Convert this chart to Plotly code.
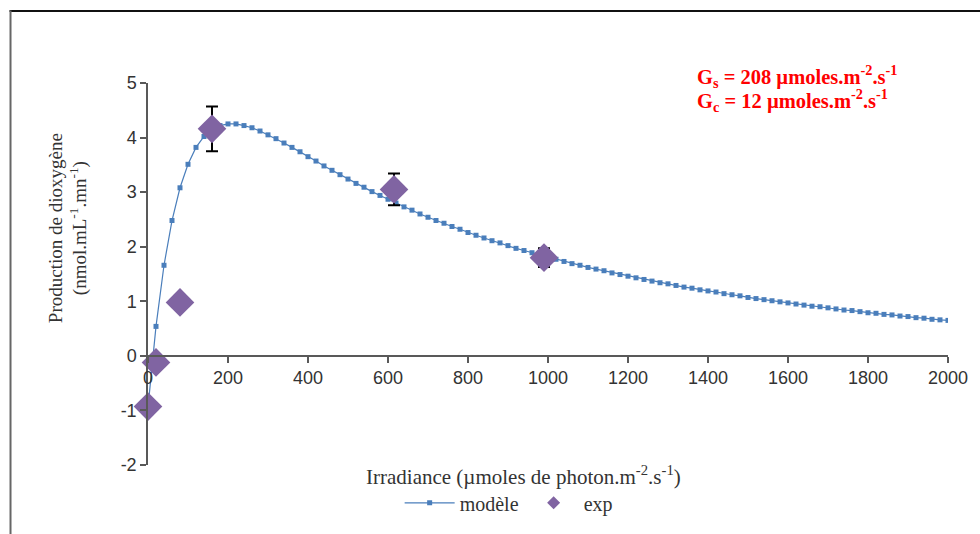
import plotly.graph_objects as go

# Model curve (every 20 units)
model_x = list(range(0, 2001, 20))
model_y = [
    -0.94, 0.54, 1.66, 2.48, 3.08, 3.51, 3.82, 4.02, 4.15, 4.22,
    4.25, 4.25, 4.22, 4.18, 4.12, 4.05, 3.98, 3.90, 3.82, 3.74,
    3.65, 3.57, 3.48, 3.40, 3.32, 3.24, 3.16, 3.09, 3.01, 2.94,
    2.87, 2.80, 2.73, 2.67, 2.60, 2.54, 2.48, 2.43, 2.37, 2.32,
    2.26, 2.21, 2.16, 2.11, 2.07, 2.02, 1.97, 1.93, 1.89, 1.85,
    1.81, 1.77, 1.73, 1.69, 1.66, 1.62, 1.59, 1.56, 1.52, 1.49,
    1.46, 1.43, 1.40, 1.37, 1.34, 1.32, 1.29, 1.26, 1.24, 1.21,
    1.19, 1.17, 1.14, 1.12, 1.10, 1.07, 1.05, 1.03, 1.01, 0.99,
    0.97, 0.95, 0.93, 0.91, 0.90, 0.88, 0.86, 0.84, 0.83, 0.81,
    0.79, 0.78, 0.76, 0.75, 0.73, 0.72, 0.70, 0.69, 0.67, 0.66,
    0.65,
]

# Experimental points
exp_x = [0, 20, 80, 160, 615, 990]
exp_y = [-0.93, -0.12, 0.98, 4.16, 3.05, 1.80]
exp_err = [0, 0, 0, 0.41, 0.29, 0.17]

x_ticks = [0, 200, 400, 600, 800, 1000, 1200, 1400, 1600, 1800, 2000]
y_ticks = [-2, -1, 0, 1, 2, 3, 4, 5]
y_ticktext = ["-2", "-1", "0", "1", "2", "3", "4", "5"]

blue = "#4A7EBB"
purple = "#8064A2"
axis_col = "#595959"
text_col = "#333333"

fig = go.Figure()
fig.add_trace(go.Scatter(
    x=model_x, y=model_y, mode="lines+markers", name="modèle",
    line=dict(color=blue, width=1.2),
    marker=dict(symbol="square", size=5, color=blue),
))
fig.add_trace(go.Scatter(
    x=exp_x, y=exp_y, mode="markers", name="exp", showlegend=False,
    marker=dict(symbol="diamond", size=22, color=purple),
    error_y=dict(type="data", array=exp_err, visible=True,
                 color="black", thickness=2, width=6),
    cliponaxis=False,
))
fig.add_trace(go.Scatter(
    x=[None], y=[None], mode="markers", name="exp",
    marker=dict(symbol="diamond", size=10, color=purple),
))

L, R, T, B = 148, 29, 83, 67
W, H = 980, 534
pw = W - L - R
ph = H - T - B

def px(xp):
    return (xp - L) / pw

def py(yp):
    return (H - B - yp) / ph

fig.update_layout(
    width=W, height=H,
    margin=dict(l=L, r=R, t=T, b=B),
    plot_bgcolor="white", paper_bgcolor="white",
    font=dict(family="Liberation Sans", size=14, color=text_col),
    xaxis=dict(
        range=[0, 2000], tickvals=x_ticks, showgrid=False, zeroline=False,
        showline=True, linecolor=axis_col, linewidth=1.5,
        ticks="outside", ticklen=6, tickcolor=axis_col, tickwidth=1.5,
        anchor="free", position=2 / 7,
        tickfont=dict(family="Liberation Sans", size=18, color=text_col),
    ),
    yaxis=dict(
        range=[-2, 5], tickvals=y_ticks, ticktext=y_ticktext,
        showgrid=False, zeroline=False,
        showline=True, linecolor=axis_col, linewidth=1.5,
        ticks="outside", ticklen=6, tickcolor=axis_col, tickwidth=1.5,
        tickfont=dict(family="Liberation Sans", size=18, color=text_col),
    ),
    showlegend=True,
    legend=dict(
        orientation="h", x=px(510), xanchor="center", y=py(505), yanchor="middle",
        font=dict(family="Liberation Serif", size=20, color=text_col),
        bgcolor="rgba(0,0,0,0)", itemwidth=50,
    ),
)

fig.add_annotation(
    xref="paper", yref="paper", x=px(42), y=py(229),
    text="Production de dioxygène<br>(nmol.mL<sup>-1</sup>.mn<sup>-1</sup>)",
    textangle=-90, showarrow=False,
    font=dict(family="Liberation Serif", size=19, color=text_col),
)
fig.add_annotation(
    xref="paper", yref="paper", x=px(525), y=py(478),
    text="Irradiance (µmoles de photon.m<sup>-2</sup>.s<sup>-1</sup>)",
    showarrow=False, xanchor="center", yanchor="middle",
    font=dict(family="Liberation Serif", size=21, color=text_col),
)
fig.add_annotation(
    xref="paper", yref="paper", x=px(697), y=py(76),
    text="<b>G<sub>s</sub> = 208 µmoles.m<sup>-2</sup>.s<sup>-1</sup></b>",
    showarrow=False, xanchor="left", yanchor="middle",
    font=dict(family="Liberation Serif", size=20.5, color="#FF0000"),
)
fig.add_annotation(
    xref="paper", yref="paper", x=px(697), y=py(101),
    text="<b>G<sub>c</sub> = 12 µmoles.m<sup>-2</sup>.s<sup>-1</sup></b>",
    showarrow=False, xanchor="left", yanchor="middle",
    font=dict(family="Liberation Serif", size=20.5, color="#FF0000"),
)

# Outer frame (top and left edges visible)
fig.add_shape(type="line", xref="paper", yref="paper",
              x0=px(9), x1=px(985), y0=py(10.5), y1=py(10.5),
              line=dict(color="#111111", width=2))
fig.add_shape(type="line", xref="paper", yref="paper",
              x0=px(10), x1=px(10), y0=py(10), y1=py(540),
              line=dict(color="#666666", width=2))

fig.write_html(
    "out.html",
    config={"displayModeBar": False},
    post_script="document.body.style.margin='0px';document.body.style.overflow='hidden';",
)
